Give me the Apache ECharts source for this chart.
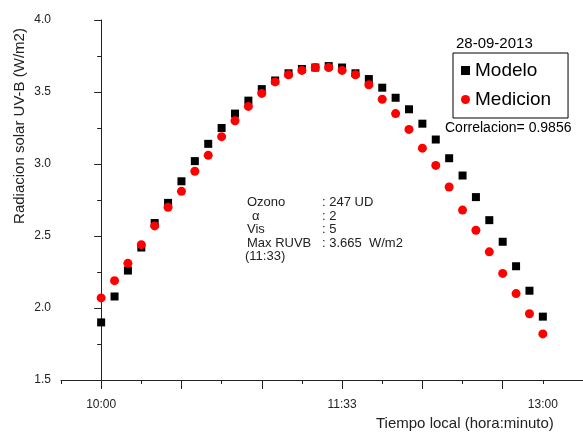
<!DOCTYPE html>
<html>
<head>
<meta charset="utf-8">
<script src="https://cdn.jsdelivr.net/npm/echarts@6/dist/echarts.min.js"></script>
<style>
  html, body { margin: 0; padding: 0; background: #fff; }
</style>
</head>
<body>
<div id="uvb" style="width:583px;height:432px;"></div>
<script>
// valores (una muestra por paso, 10:00 -> 13:00)
const modelo = [1.90, 2.08, 2.26, 2.42, 2.59, 2.73, 2.88, 3.02, 3.14, 3.25, 3.35, 3.44,
  3.52, 3.58, 3.63, 3.66, 3.67, 3.68, 3.67, 3.63, 3.59, 3.53, 3.46, 3.38,
  3.28, 3.17, 3.04, 2.92, 2.77, 2.61, 2.46, 2.29, 2.12, 1.94];
const medicion = [2.07, 2.19, 2.31, 2.44, 2.57, 2.70, 2.81, 2.95, 3.06, 3.19, 3.30, 3.40,
  3.49, 3.57, 3.62, 3.65, 3.67, 3.67, 3.65, 3.62, 3.55, 3.45, 3.35, 3.24,
  3.11, 2.99, 2.84, 2.68, 2.54, 2.39, 2.24, 2.10, 1.96, 1.82];

// eje x: posicion de las etiquetas y marcas
const horaPos = [0, 18, 33];
const horaTxt = ['10:00', '11:33', '13:00'];
const marcasMayores = [0, 6, 12, 18, 24, 30, 36];
const marcasMenores = [-3, 3, 9, 15, 21, 27, 33];

const info = [
  ['Ozono', ': 247 UD'],
  ['\u03b1', ': 2'],
  ['Vis', ': 5'],
  ['Max RUVB', ': 3.665  W/m2'],
  ['(11:33)', '']
];

const font = 'Arial, "Liberation Sans", sans-serif';

function pares(arr) {
  return arr.map(function (v, i) { return [i, v]; });
}

const infoText = [];
info.forEach(function (row, i) {
  infoText.push({
    type: 'text', left: i === 4 ? 245 : (i === 1 ? 252 : 247), top: 196 + i * 13.5,
    style: { text: row[0], font: '13px ' + font, fill: '#222' }
  });
  if (row[1]) {
    infoText.push({
      type: 'text', left: 322, top: 196 + i * 13.5,
      style: { text: row[1], font: '13px ' + font, fill: '#222' }
    });
  }
});

const option = {
  animation: false,
  backgroundColor: '#fff',
  grid: { left: 61, top: 20, bottom: 52, width: 523 },
  legend: {
    orient: 'vertical',
    left: 453, top: 53,
    padding: [8, 17, 9, 8],
    itemGap: 10,
    itemWidth: 9, itemHeight: 9,
    borderColor: '#000', borderWidth: 1,
    textStyle: { fontSize: 19, fontFamily: font, color: '#000' },
    data: [{ name: 'Modelo', icon: 'rect' }, { name: 'Medicion', icon: 'circle' }]
  },
  xAxis: [
    {
      type: 'value', min: -3, max: 36,
      axisLine: { lineStyle: { color: '#222', width: 1 } },
      axisTick: { customValues: marcasMayores, length: 9, lineStyle: { color: '#222' } },
      axisLabel: {
        customValues: horaPos, margin: 19, fontSize: 12, fontFamily: font, color: '#222',
        formatter: function (v) { return horaTxt[horaPos.indexOf(v)]; }
      },
      splitLine: { show: false }
    },
    {
      type: 'value', min: -3, max: 36, position: 'bottom',
      axisLine: { show: false },
      axisTick: { customValues: marcasMenores, length: 4, lineStyle: { color: '#222' } },
      axisLabel: { show: false },
      splitLine: { show: false }
    }
  ],
  yAxis: {
    type: 'value', min: 1.5, max: 4.0, interval: 0.5,
    axisLine: { show: true, lineStyle: { color: '#222', width: 1 } },
    axisTick: { show: true, length: 7, lineStyle: { color: '#222' } },
    minorTick: { show: true, splitNumber: 2, length: 4, lineStyle: { color: '#222' } },
    axisLabel: {
      margin: 10, fontSize: 12, fontFamily: font, color: '#222',
      formatter: function (v) { return v.toFixed(1); }
    },
    splitLine: { show: false }
  },
  series: [
    {
      name: 'Modelo', type: 'scatter', symbol: 'rect', symbolSize: 8,
      itemStyle: { color: '#000', opacity: 1 },
      data: pares(modelo)
    },
    {
      name: 'Medicion', type: 'scatter', symbol: 'circle', symbolSize: 9,
      itemStyle: { color: '#ff0000', opacity: 1 },
      data: pares(medicion)
    }
  ],
  graphic: [
    {
      type: 'text', x: 20, y: 126, rotation: Math.PI / 2,
      style: { text: 'Radiacion solar UV-B (W/m2)', font: '15px ' + font, fill: '#222',
        align: 'center', verticalAlign: 'middle' }
    },
    {
      type: 'text', left: 376, top: 416,
      style: { text: 'Tiempo local (hora:minuto)', font: '15px ' + font, fill: '#222' }
    },
    {
      type: 'text', left: 456, top: 36,
      style: { text: '28-09-2013', font: '15px ' + font, fill: '#000' }
    },
    {
      type: 'text', left: 445, top: 121,
      style: { text: 'Correlacion= 0.9856', font: '14px ' + font, fill: '#000' }
    }
  ].concat(infoText)
};

const chart = echarts.init(document.getElementById('uvb'));
chart.setOption(option);
window.addEventListener('resize', function () {
  chart.resize();
});
</script>
</body>
</html>
